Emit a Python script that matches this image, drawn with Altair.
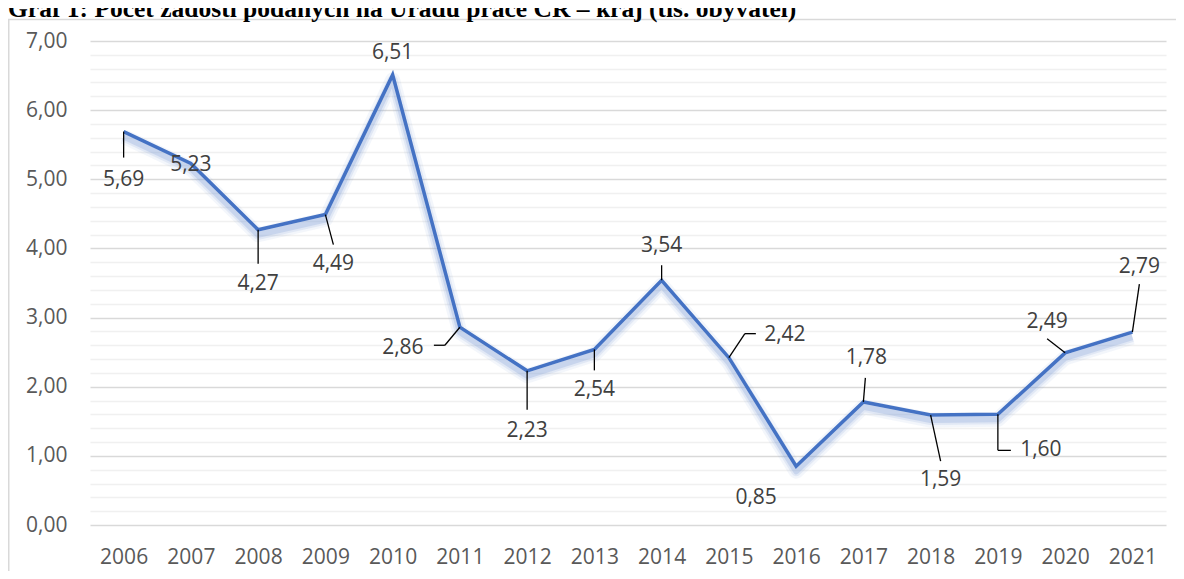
import altair as alt
import pandas as pd

# ---- data ----
years = ["2006", "2007", "2008", "2009", "2010", "2011", "2012", "2013",
         "2014", "2015", "2016", "2017", "2018", "2019", "2020", "2021"]
values = [5.69, 5.23, 4.27, 4.49, 6.51, 2.86, 2.23, 2.54,
          3.54, 2.42, 0.85, 1.78, 1.59, 1.60, 2.49, 2.79]
y_ticks = [round(i * 0.2, 1) for i in range(36)]
title_text = "Graf 1: Počet žádostí podaných na Úřadu práce ČR – kraj (tis. obyvatel)"

df = pd.DataFrame({"year": years, "value": values})

# ---- style: label offsets (px) and leader-line paths (px offsets from point) ----
label_off = {
    "2006": (0, 48), "2007": (0, 2), "2008": (0, 54), "2009": (8, 49),
    "2010": (0, -22), "2011": (-57, 21), "2012": (0, 60), "2013": (0, 41),
    "2014": (0, -34), "2015": (56, -23), "2016": (-40, 32), "2017": (3, -44),
    "2018": (10, 65), "2019": (43, 36), "2020": (-18, -31), "2021": (7, -65),
}
leaders = {
    "2006": [(0, 0), (0, 26)],
    "2008": [(0, 0), (0, 34)],
    "2009": [(0, 0), (8, 30)],
    "2011": [(0, 0), (-15, 18), (-26, 18)],
    "2012": [(0, 0), (0, 39)],
    "2013": [(0, 0), (0, 21)],
    "2014": [(0, 0), (0, -15)],
    "2015": [(0, 0), (16, -24), (27, -24)],
    "2017": [(0, 0), (2, -24)],
    "2018": [(0, 0), (10, 46)],
    "2019": [(0, 0), (0, 36), (13, 36)],
    "2020": [(0, 0), (-18, -14)],
    "2021": [(0, 0), (7, -48)],
}

FONT = "Open Sans"
x_enc = alt.X("year:O", sort=years,
              scale=alt.Scale(type="point", padding=0.5),
              axis=alt.Axis(title=None, labelAngle=0, domain=False, ticks=False,
                            labelFont=FONT, labelFontSize=21, labelColor="#595959",
                            labelPadding=21, grid=False))
y_enc = alt.Y("value:Q", scale=alt.Scale(domain=[0, 7], nice=False),
              axis=alt.Axis(title=None, values=y_ticks, domain=False, ticks=False,
                            labelFont=FONT, labelFontSize=21, labelColor="#595959",
                            labelPadding=23,
                            labelExpr="abs(datum.value - round(datum.value)) < 0.001 ? replace(format(datum.value, '.2f'), '.', ',') : ''",
                            gridColor={"condition": {"test": "abs(datum.value - round(datum.value)) < 0.001", "value": "#d9d9d9"}, "value": "#f0f0f0"},
                            gridWidth={"condition": {"test": "abs(datum.value - round(datum.value)) < 0.001", "value": 1.6}, "value": 1.3}))

base = alt.Chart(df)

# outer frame
frame = alt.Chart(pd.DataFrame({"k": [0]})).mark_rect(
    fill=None, stroke="#d9d9d9", strokeWidth=1.5
).encode(x=alt.value(-81.25), x2=alt.value(1300), y=alt.value(-21.5), y2=alt.value(700))

# title, cropped at the top edge as in the source image
title = alt.Chart(pd.DataFrame({"k": [0]})).mark_text(
    text=title_text, font="Liberation Serif", fontWeight="bold", fontSize=25.5,
    align="left", baseline="alphabetic", color="#000000"
).encode(x=alt.value(-82), y=alt.value(-24))

glow_layers = [
    base.mark_line(color="#8eaadb", strokeWidth=w, opacity=o, yOffset=5,
                   strokeJoin="round").encode(x=x_enc, y=y_enc)
    for w, o in [(15, 0.10), (10, 0.18), (6, 0.30)]
]

line = base.mark_line(color="#4472C4", strokeWidth=3.5).encode(x=x_enc, y=y_enc)

leader_layers = []
for yr, pts in leaders.items():
    for (ax, ay), (bx, by) in zip(pts[:-1], pts[1:]):
        leader_layers.append(
            base.transform_filter(alt.datum.year == yr).mark_rule(
                color="#000000", strokeWidth=1.3,
                xOffset=ax, yOffset=ay, x2Offset=bx, y2Offset=by
            ).encode(x=x_enc, y=y_enc, x2="year:O", y2="value:Q")
        )

label_layers = []
for yr, (dx, dy) in label_off.items():
    label_layers.append(
        base.transform_filter(alt.datum.year == yr)
        .transform_calculate(label="replace(format(datum.value, '.2f'), '.', ',')")
        .mark_text(font=FONT, fontSize=21, color="#404040", dx=dx, dy=dy,
                   align="center", baseline="middle")
        .encode(x=x_enc, y=y_enc, text="label:N")
    )

chart = alt.layer(
    frame, title, *glow_layers, line, *leader_layers, *label_layers
).properties(
    width=1076, height=484,
    autosize=alt.AutoSizeParams(type="none"),
    padding={"left": 82, "top": 33, "right": 10, "bottom": 46},
).configure_view(stroke=None)

chart.save("out.html", embed_options={"renderer": "svg", "actions": False})
